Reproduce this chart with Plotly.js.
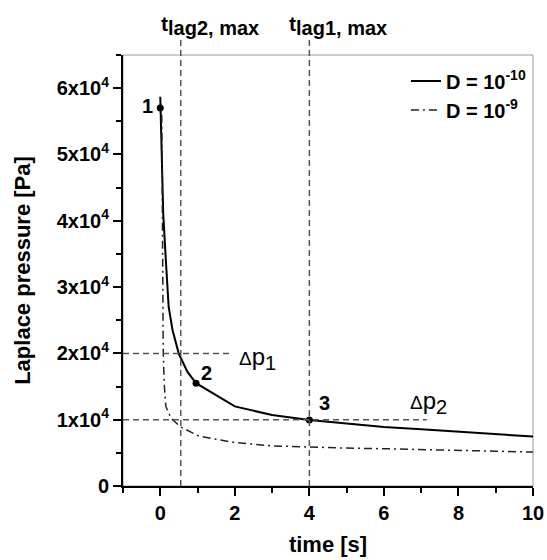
<!DOCTYPE html>
<html>
<head>
<meta charset="utf-8">
<script src="https://cdn.plot.ly/plotly-3.0.1.min.js"></script>
<style>
  html, body { margin: 0; padding: 0; background: #fff; }
  #chart { width: 547px; height: 560px; }
</style>
</head>
<body>
<div id="chart"></div>
<script>
// ---- data ----
const tSolid = [0, 0.03, 0.08, 0.15, 0.225, 0.33, 0.5, 0.73, 0.96, 2, 3, 4, 5, 6, 7, 8, 9, 10];
const pSolid = [58700, 51000, 41000, 34000, 27000, 23500, 19900, 17200, 15500, 12000, 10700, 9950, 9400, 8900, 8550, 8150, 7800, 7450];

const tDash = [0.04, 0.05, 0.06, 0.08, 0.11, 0.15, 0.29, 0.55, 1.05, 2, 3, 4, 5, 6, 7, 8, 9, 10];
const pDash = [56000, 40000, 28000, 20000, 15000, 12000, 10200, 8900, 7500, 6550, 6050, 5850, 5720, 5620, 5530, 5400, 5250, 5120];

const tPoints = [0, 0.96, 4];
const pPoints = [57000, 15500, 9950];
const pointLabels = ['1', '2', '3'];

const seriesNames = ['D = 10<sup>-10</sup>', 'D = 10<sup>-9</sup>'];

const yTickVals = [0, 10000, 20000, 30000, 40000, 50000, 60000];
const yTickText = ['0', '1x10<sup>4</sup>', '2x10<sup>4</sup>', '3x10<sup>4</sup>', '4x10<sup>4</sup>', '5x10<sup>4</sup>', '6x10<sup>4</sup>'];
const xTickVals = [0, 2, 4, 6, 8, 10];

const tLag2 = 0.55, tLag1 = 4;
const dp1Level = 20000, dp2Level = 10000;
const dp1End = 1.85, dp2End = 7.15;

// ---- chart ----
const FONT = 'Liberation Sans, Arial, sans-serif';
const refLine = { color: '#555', width: 1.5, dash: '6px,4px' };

const traces = [
  { x: tSolid, y: pSolid, mode: 'lines', name: seriesNames[0],
    line: { color: '#000', width: 2 } },
  { x: tDash, y: pDash, mode: 'lines', name: seriesNames[1],
    line: { color: '#222', width: 1.5, dash: '8px,4px,2px,4px' } },
  { x: tPoints, y: pPoints, mode: 'markers', showlegend: false,
    marker: { color: '#000', size: 7 } }
];

const annotations = [
  { x: tPoints[0], y: pPoints[0], text: pointLabels[0], xanchor: 'right', yanchor: 'middle', xshift: -5, yshift: 2 },
  { x: tPoints[1], y: pPoints[1], text: pointLabels[1], xanchor: 'left', yanchor: 'bottom', xshift: 3, yshift: -3 },
  { x: tPoints[2], y: pPoints[2], text: pointLabels[2], xanchor: 'left', yanchor: 'bottom', xshift: 8, yshift: 4 },
].map(a => Object.assign({ xref: 'x', yref: 'y', showarrow: false,
  font: { family: FONT, size: 20, color: '#000', weight: 700 } }, a));

const subBig = s => '<sub><span style="font-size:20px">' + s + '</span></sub>';
const delta = '<span style="font-size:19px">Δ</span>';

annotations.push(
  { xref: 'x', yref: 'y', x: 2.05, y: dp1Level, text: delta + 'p' + subBig('1'), showarrow: false,
    xanchor: 'left', yanchor: 'middle', yshift: -5,
    font: { family: FONT, size: 24, color: '#000' } },
  { xref: 'x', yref: 'y', x: 6.65, y: dp2Level, text: delta + 'p' + subBig('2'), showarrow: false,
    xanchor: 'left', yanchor: 'bottom', yshift: 0,
    font: { family: FONT, size: 24, color: '#000' } },
  { xref: 'x', yref: 'paper', x: -0.03, y: 1.033, text: 't' + subBig('lag2, max'), showarrow: false,
    xanchor: 'left', yanchor: 'bottom',
    font: { family: FONT, size: 21, color: '#000', weight: 700 } },
  { xref: 'x', yref: 'paper', x: 3.39, y: 1.033, text: 't' + subBig('lag1, max'), showarrow: false,
    xanchor: 'left', yanchor: 'bottom',
    font: { family: FONT, size: 21, color: '#000', weight: 700 } }
);

const shapes = [
  { type: 'rect', xref: 'paper', yref: 'paper', x0: 0, x1: 1, y0: 0, y1: 1,
    line: { color: '#9a9a9a', width: 1 }, layer: 'below' },
  { type: 'line', xref: 'x', yref: 'paper', x0: tLag2, x1: tLag2, y0: 0, y1: 1.035, line: refLine },
  { type: 'line', xref: 'x', yref: 'paper', x0: tLag1, x1: tLag1, y0: 0, y1: 1.035, line: refLine },
  { type: 'line', xref: 'x', yref: 'y', x0: -1, x1: dp1End, y0: dp1Level, y1: dp1Level, line: refLine },
  { type: 'line', xref: 'x', yref: 'y', x0: -1, x1: dp2End, y0: dp2Level, y1: dp2Level, line: refLine }
];

const layout = {
  width: 547, height: 560,
  margin: { l: 123, r: 14, t: 55, b: 74 },
  paper_bgcolor: '#fff', plot_bgcolor: '#fff',
  font: { family: FONT, color: '#000' },
  showlegend: true,
  legend: {
    x: 0.995, y: 0.985, xanchor: 'right', yanchor: 'top',
    bgcolor: 'rgba(0,0,0,0)', borderwidth: 0,
    font: { family: FONT, size: 20, color: '#000', weight: 700 },
    tracegroupgap: 0
  },
  xaxis: {
    range: [-1, 10], tickmode: 'array', tickvals: xTickVals,
    showgrid: false, zeroline: false,
    showline: true, linecolor: '#000', linewidth: 2,
    ticks: 'outside', ticklen: 8, tickwidth: 2, tickcolor: '#000',
    tickfont: { family: FONT, size: 20, color: '#000', weight: 700 },
    minor: { dtick: 1, tick0: 1, ticks: 'outside', ticklen: 5, tickwidth: 2, tickcolor: '#000', showgrid: false },
    title: { text: 'time [s]', standoff: 14,
      font: { family: FONT, size: 22, color: '#000', weight: 700 } }
  },
  yaxis: {
    range: [0, 65000], tickmode: 'array', tickvals: yTickVals, ticktext: yTickText,
    showgrid: false, zeroline: false,
    showline: true, linecolor: '#000', linewidth: 2,
    ticks: 'outside', ticklen: 8, tickwidth: 2, tickcolor: '#000',
    tickfont: { family: FONT, size: 20, color: '#000', weight: 700 },
    minor: { dtick: 5000, tick0: 0, ticks: 'outside', ticklen: 5, tickwidth: 2, tickcolor: '#000', showgrid: false },
    title: { text: 'Laplace pressure [Pa]', standoff: 20,
      font: { family: FONT, size: 22, color: '#000', weight: 700 } }
  },
  shapes: shapes,
  annotations: annotations
};

Plotly.newPlot('chart', traces, layout, { displayModeBar: false, staticPlot: true });
</script>
</body>
</html>
